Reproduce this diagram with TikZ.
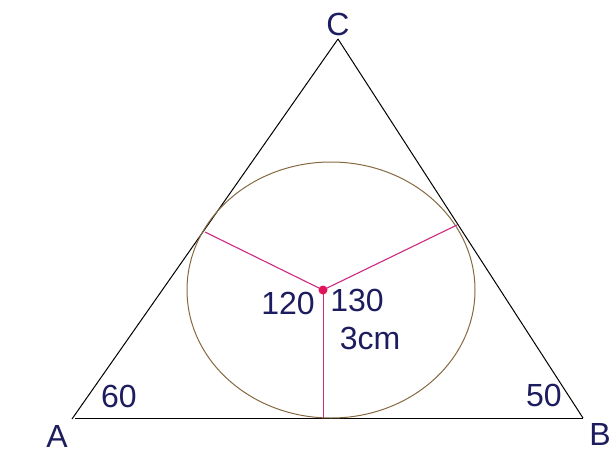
\documentclass[tikz,border=0pt]{standalone}
\usepackage{fontspec}
\setmainfont{Liberation Sans}
\definecolor{txt}{RGB}{28,28,95}
\definecolor{rad}{RGB}{205,40,130}
\definecolor{dotc}{RGB}{225,20,90}
\definecolor{circ}{RGB}{135,105,65}
\begin{document}
\begin{tikzpicture}[x=1pt,y=-1pt,
  lbl/.style={text=txt,font=\fontsize{32}{32}\selectfont,inner sep=0pt,anchor=center},
  side/.style={draw=black,line width=1pt},
  radius line/.style={draw=rad,line width=1.1pt},
  incircle/.style={draw=circ,line width=1pt}]
\useasboundingbox (0,0) rectangle (611,453);
% vertices
\coordinate (A) at (72,419);
\coordinate (B) at (583,418);
\coordinate (C) at (338,39);
\coordinate (A1) at (75,418);
% incircle and centre
\coordinate (O) at (331,290);
\coordinate (I) at (323,290);
\coordinate (P1) at (205,232);
\coordinate (P2) at (457,225);
\coordinate (I3) at (323.5,290);
\coordinate (P3) at (323.5,418);
% triangle
\draw[side] (A1) -- (B);
\draw[side] (A) -- (C);
\draw[side] (C) -- (B);
% circle
\draw[incircle] (O) ellipse [x radius=144, y radius=128];
% radii
\draw[radius line] (I) -- (P1);
\draw[radius line] (I) -- (P2);
\draw[radius line,line width=1.4pt] (I3) -- (P3);
\fill[dotc] (I) circle [radius=4.5];
% labels
\node[lbl] (lC) at (338,24) {C};
\node[lbl] (lA) at (57,436) {A};
\node[lbl] (lB) at (600,434) {B};
\node[lbl] (l60) at (119,396) {60};
\node[lbl] (l50) at (544,395) {50};
\node[lbl] (l120) at (288,303) {120};
\node[lbl] (l130) at (357,300) {130};
\node[lbl] (l3cm) at (370,338) {3cm};
\end{tikzpicture}
\end{document}
